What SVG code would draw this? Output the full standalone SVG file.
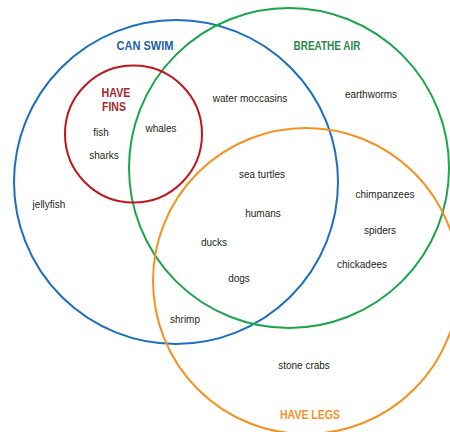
<svg xmlns="http://www.w3.org/2000/svg" width="450" height="432" viewBox="0 0 450 432">
<style>
.c{fill:none;stroke-width:2}
.t{font-family:"Liberation Sans",Arial,sans-serif;font-size:10px;fill:#231f20;text-anchor:middle}
.h{font-family:"Liberation Sans",Arial,sans-serif;font-size:12.5px;font-weight:bold;text-anchor:middle}
</style>
<rect width="450" height="432" fill="#fff"/>
<g id="connectors"/>
<g id="can-swim">
<circle class="c" cx="176" cy="182" r="162" stroke="#1b6fc0"/>
<text class="h" x="145" y="50" fill="#1f5fa6" textLength="57" lengthAdjust="spacingAndGlyphs">CAN SWIM</text>
</g>
<g id="breathe-air">
<circle class="c" cx="289" cy="168" r="160" stroke="#1aa64a"/>
<text class="h" x="327" y="50" fill="#2b8a4c" textLength="67" lengthAdjust="spacingAndGlyphs">BREATHE AIR</text>
</g>
<g id="have-legs">
<circle class="c" cx="306" cy="281" r="153" stroke="#f7901e"/>
<text class="h" x="310" y="419" fill="#f7901e" textLength="60" lengthAdjust="spacingAndGlyphs">HAVE LEGS</text>
</g>
<g id="have-fins">
<circle class="c" cx="133.5" cy="134" r="68.5" stroke="#c1141c"/>
<text class="h" x="116" y="97" fill="#a8272d" textLength="29" lengthAdjust="spacingAndGlyphs">HAVE</text>
<text class="h" x="114" y="111" fill="#a8272d" textLength="24" lengthAdjust="spacingAndGlyphs">FINS</text>
</g>
<g id="labels">
<text class="t" x="101" y="136">fish</text>
<text class="t" x="104" y="159">sharks</text>
<text class="t" x="161" y="132">whales</text>
<text class="t" x="49" y="208">jellyfish</text>
<text class="t" x="250" y="102">water moccasins</text>
<text class="t" x="371" y="98">earthworms</text>
<text class="t" x="262" y="178">sea turtles</text>
<text class="t" x="263" y="217">humans</text>
<text class="t" x="214" y="246">ducks</text>
<text class="t" x="239" y="282">dogs</text>
<text class="t" x="385" y="198">chimpanzees</text>
<text class="t" x="380" y="234">spiders</text>
<text class="t" x="362" y="268">chickadees</text>
<text class="t" x="185" y="323">shrimp</text>
<text class="t" x="304" y="369">stone crabs</text>
</g>
</svg>
